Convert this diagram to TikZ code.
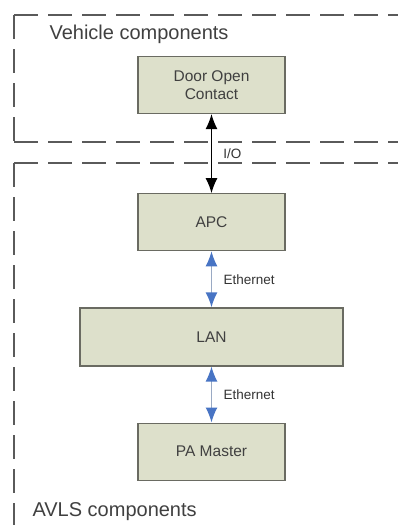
\documentclass[tikz,border=0pt]{standalone}
\usepackage{fontspec}
\setmainfont{Liberation Sans}
\usepackage{tikz}
\usetikzlibrary{arrows.meta,
                positioning}
\definecolor{boxfill}{HTML}{DDE0CB}
\definecolor{boxline}{HTML}{6A6B62}
\definecolor{frameline}{HTML}{5A5A5A}
\definecolor{ethblue}{HTML}{4874C4}
\definecolor{ethline}{HTML}{9AAAC4}

\begin{document}
\begin{tikzpicture}[x=1pt,y=-1pt,node distance = 56pt]
\useasboundingbox (0,0) rectangle (398,525);

\tikzstyle{unit}=[rectangle, draw=boxline, line width=1.2pt, fill=boxfill, minimum width=147pt, minimum height=57pt, inner sep=0pt, align=center, text=black!75, font=\fontsize{15.5}{18}\selectfont]
\tikzstyle{frame}=[draw=frameline, line width=1.8pt, dash pattern=on 24pt off 10pt]
\tikzstyle{group}=[anchor=west, text=black!75, font=\fontsize{20}{24}\selectfont]
\tikzstyle{link}=[anchor=west, text=black!80, font=\fontsize{13.5}{16}\selectfont]
\tikzstyle{io}=[{Latex[length=15pt,width=12pt]}-{Latex[length=15pt,width=12pt]}, line width=1.2pt, black]
\tikzstyle{eth}=[{Latex[length=15pt,width=12pt,color=ethblue]}-{Latex[length=15pt,width=12pt,color=ethblue]}, line width=1.4pt, draw=ethline]

% frames
\coordinate (vtl) at (14,15);
\coordinate (vtr) at (398,15);
\coordinate (vbl) at (14,142);
\coordinate (vbr) at (398,142);
\coordinate (atl) at (14,163);
\coordinate (atr) at (398,163);
\coordinate (abl) at (14,525);
\draw[frame] (vtl) -- (vtr);
\draw[frame] (vtl) -- (vbl);
\draw[frame] (vbl) -- (vbr);
\draw[frame] (atl) -- (atr);
\draw[frame] (atl) -- (abl);

\node (vehicle) [group] at (46,34) {Vehicle components};
\node (avls) [group] at (29,512) {AVLS components};

% units
\node (door) [unit] at (211.5,85) {Door Open\\Contact};
\node (apc) [unit, below = 79pt of door] {APC};
\node (lan) [unit, below = of apc, minimum width=263pt, minimum height=58pt] {LAN};
\node (pa) [unit, below = of lan] {PA Master};

% links
\draw[io] (door) -- node[link, right=8pt] {I/O} (apc);
\draw[eth] (apc) -- node[link, right=8pt] {Ethernet} (lan);
\draw[eth] (lan) -- node[link, right=8pt] {Ethernet} (pa);
\end{tikzpicture}
\end{document}
